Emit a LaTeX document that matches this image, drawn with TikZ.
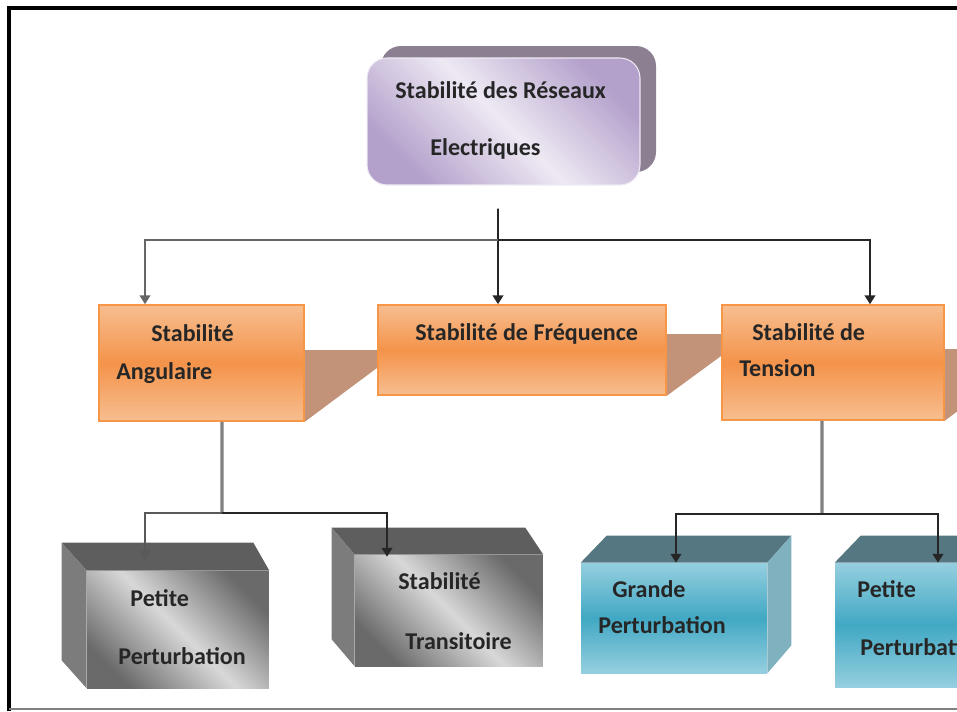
\documentclass[tikz,border=0pt]{standalone}
\usepackage{fontspec}
\setmainfont{Carlito}
\usetikzlibrary{arrows.meta}
\usetikzlibrary{backgrounds}

\definecolor{orangeLight}{HTML}{F7BE90}
\definecolor{orangeMid}{HTML}{F4934A}
\definecolor{orangeLine}{HTML}{F79646}
\definecolor{shadowBrown}{HTML}{C29379}
\definecolor{purpleLight}{HTML}{EEE9F3}
\definecolor{purpleMid}{HTML}{B3A0CB}
\definecolor{purpleBack}{HTML}{8C7F91}
\definecolor{grayTop}{HTML}{5E5E5E}
\definecolor{graySide}{HTML}{7C7C7C}
\definecolor{grayLight}{HTML}{D8D8D8}
\definecolor{grayDark}{HTML}{6A6A6A}
\definecolor{blueLight}{HTML}{95CFDF}
\definecolor{blueMid}{HTML}{41A8C4}
\definecolor{blueTop}{HTML}{557782}
\definecolor{blueSide}{HTML}{7FB1BF}

\tikzset{
  orangebox/.style={draw=orangeLine, line width=0.9pt, top color=orangeLight,
    bottom color=orangeLight, middle color=orangeMid, inner sep=0pt},
  purplebox/.style={draw=purpleLight, line width=0.6pt, rounded corners=0.4cm,
    top color=purpleMid, bottom color=purpleMid, middle color=purpleLight,
    shading angle=-45, inner sep=0pt},
  graybox/.style={top color=grayDark, bottom color=grayDark, middle color=grayLight,
    shading angle=-45, inner sep=0pt},
  bluebox/.style={top color=blueLight, bottom color=blueLight, middle color=blueMid,
    inner sep=0pt},
  txt/.style={anchor=base west, inner sep=0pt,
    font=\fontsize{13.7}{16}\selectfont\bfseries, text=black!85},
  link/.style={line width=1.1pt, black!85},
  stem/.style={line width=1.8pt, gray},
  arr/.style={link, -{Triangle[width=6pt,length=5pt]}},
}

\begin{document}
\begin{tikzpicture}[x=0.02cm, y=-0.02cm]

    \useasboundingbox (0,0) rectangle (957,711);
    \clip (0,0) rectangle (957,711);

    % Frame
    \draw[line width=2.2pt] (9,711) -- (9,8) -- (957,8);
    \draw[line width=1pt, gray] (9,709) -- (957,709);

    % Top box
    \fill[purpleBack, rounded corners=0.4cm] (381,46) rectangle (656,172);
    \node[purplebox, minimum width=5.46cm, minimum height=2.54cm] (top) at (503.5,121.5) {};
    \node[txt] (topA) at (395,98) {Stabilité des Réseaux};
    \node[txt] (topB) at (430,155) {Electriques};

    % Second row
    \node[orangebox, minimum width=4.1cm, minimum height=2.32cm] (ang) at (201.5,363) {};
    \node[orangebox, minimum width=5.76cm, minimum height=1.8cm] (freq) at (522,350) {};
    \node[orangebox, minimum width=4.44cm, minimum height=2.3cm] (ten) at (833,362.5) {};

    \begin{scope}[on background layer]
        \fill[shadowBrown] ([yshift=-0.92cm]ang.north east) -- ++(96,0) -- (ang.south east) -- cycle;
        \fill[shadowBrown] ([yshift=-0.6cm]freq.north east) -- ++(84,0) -- (freq.south east) -- cycle;
        \fill[shadowBrown] ([yshift=-0.9cm]ten.north east) -- ++(95,0) -- (ten.south east) -- cycle;
    \end{scope}

    \node[txt] (angA) at (151,341) {Stabilité};
    \node[txt] (angB) at (116,379) {Angulaire};
    \node[txt] (freqA) at (415,340) {Stabilité de Fréquence};
    \node[txt] (tenA) at (752,340) {Stabilité de};
    \node[txt] (tenB) at (739,376) {Tension};

    % Gray boxes
    \node[graybox, minimum width=3.64cm, minimum height=2.34cm] (pp) at (178,629.5) {};
    \fill[grayTop] (pp.north west) -- ++(-25,-28) -- ([shift={(-16,-28)}]pp.north east) -- (pp.north east) -- cycle;
    \fill[graySide] (pp.north west) -- ++(-25,-28) -- ([shift={(-25,-28)}]pp.south west) -- (pp.south west) -- cycle;
    \node[txt] (ppA) at (130,606) {Petite};
    \node[txt] (ppB) at (118,664) {Perturbation};

    \node[graybox, minimum width=3.76cm, minimum height=2.22cm] (st) at (449,610.5) {};
    \fill[grayTop] (st.north west) -- ++(-23,-27) -- ([shift={(-18,-27)}]st.north east) -- (st.north east) -- cycle;
    \fill[graySide] (st.north west) -- ++(-23,-27) -- ([shift={(-23,-27)}]st.south west) -- (st.south west) -- cycle;
    \node[txt] (stA) at (398,589) {Stabilité};
    \node[txt] (stB) at (405,649) {Transitoire};

    % Blue boxes
    \node[bluebox, minimum width=3.72cm, minimum height=2.2cm] (gp) at (674,618) {};
    \fill[blueTop] (gp.north west) -- ++(26,-27) -- ([shift={(24,-27)}]gp.north east) -- (gp.north east) -- cycle;
    \fill[blueSide] (gp.north east) -- ++(24,-27) -- ([shift={(24,-28)}]gp.south east) -- (gp.south east) -- cycle;
    \node[txt] (gpA) at (612,597) {Grande};
    \node[txt] (gpB) at (598,633) {Perturbation};

    \node[bluebox, minimum width=3.72cm, minimum height=2.48cm] (pt) at (928,625) {};
    \fill[blueTop] (pt.north west) -- ++(26,-27) -- ([shift={(24,-27)}]pt.north east) -- (pt.north east) -- cycle;
    \node[txt] (ptA) at (857,597) {Petite};
    \node[txt] (ptB) at (860,655) {Perturbation};

    % Links from top
    \coordinate (t0) at ([xshift=-0.11cm,yshift=-0.46cm]top.south);
    \coordinate (t1) at (498,240);
    \draw[arr] (t0) -- ([xshift=-0.48cm]freq.north);
    \draw[arr, gray!80!black] (t1) -| ([xshift=-1.13cm]ang.north);
    \draw[arr] (t1) -| ([xshift=0.74cm]ten.north);

    % Links to gray boxes
    \coordinate (b1) at (222,513);
    \draw[stem] ([xshift=0.41cm]ang.south) -- (b1);
    \draw[arr, gray!70!black] (b1) -| ([xshift=-0.66cm,yshift=0.22cm]pp.north);
    \draw[arr] (b1) -| ([xshift=-1.24cm,yshift=-0.04cm]st.north);

    % Links to blue boxes
    \coordinate (b2) at (822,514);
    \draw[stem] ([xshift=-0.22cm]ten.south) -- (b2);
    \draw[arr] (b2) -| ([xshift=0.04cm]gp.north);
    \draw[arr] (b2) -| ([xshift=0.2cm]pt.north);

\end{tikzpicture}
\end{document}
